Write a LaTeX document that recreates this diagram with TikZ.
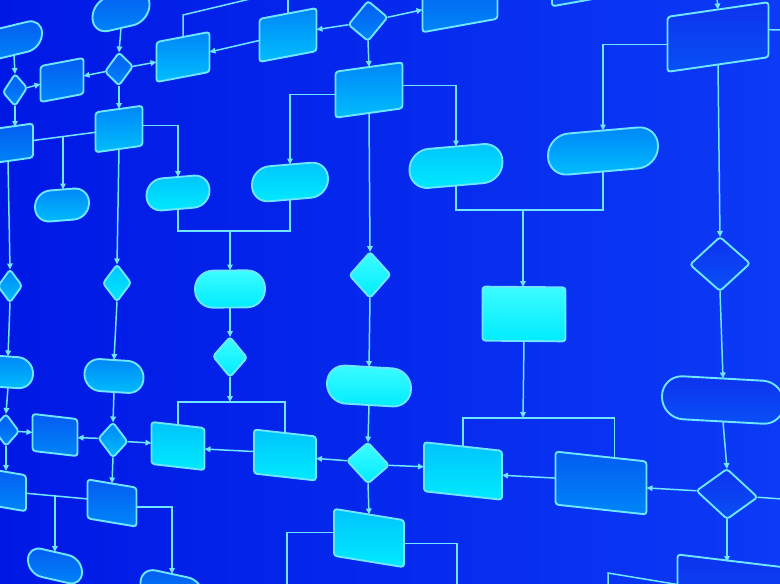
\documentclass[tikz,border=0pt]{standalone}
\usepackage{tikz}
\usetikzlibrary{arrows.meta,calc,shapes.geometric}

\definecolor{bgleft}{RGB}{0,24,228}
\definecolor{bgright}{RGB}{12,58,246}
\definecolor{wirecol}{RGB}{110,230,255}
\definecolor{deepT}{RGB}{14,50,238}
\definecolor{deepB}{RGB}{8,80,246}
\definecolor{dimT}{RGB}{4,92,242}
\definecolor{dimB}{RGB}{0,134,248}
\definecolor{midT}{RGB}{0,134,248}
\definecolor{midB}{RGB}{0,190,253}
\definecolor{litT}{RGB}{0,196,252}
\definecolor{litB}{RGB}{0,234,255}
\definecolor{glowT}{RGB}{60,252,255}
\definecolor{glowB}{RGB}{0,236,255}

\tikzset{
	part/.style={draw=wirecol, line width=1.9pt, inner sep=0pt, outer sep=0pt},
	box/.style 2 args={part, rectangle, rounded corners=3pt, minimum width=#1pt, minimum height=#2pt},
	term/.style 2 args={part, rectangle, rounded corners=0.49*#2pt, minimum width=#1pt, minimum height=#2pt},
	ask/.style 2 args={part, diamond, rounded corners=3pt, minimum width=#1pt, minimum height=#2pt},
	fdeep/.style={top color=deepT, bottom color=deepB},
	fdim/.style={top color=dimT, bottom color=dimB},
	fmid/.style={top color=midT, bottom color=midB},
	flit/.style={top color=litT, bottom color=litB},
	fglow/.style={top color=glowT, bottom color=glowB},
	link/.style={draw=wirecol, line width=1.5pt},
	flow/.style={link, -{Triangle[length=6pt, width=5.5pt]}},
}

\begin{document}
\begin{tikzpicture}[x=1pt, y=-1pt]
		%%%%% START %%%%%
		\useasboundingbox (0, 0) rectangle (780, 584);
		\clip (0, 0) rectangle (780, 584);
		\fill[left color=bgleft, right color=bgright] (0, 0) rectangle (780, 584);
		
		% upper band
		\node[term={56}{30}, fdim, yslant=0.24] (t1) at (14, 40) {};
		\node[term={57}{34}, fdim, yslant=0.23] (t2) at (121, 11) {};
		\node[ask={24}{32}, fdim, yslant=0.19] (d1) at (15, 90) {};
		\node[box={43}{36}, fdim, yslant=0.19] (b1) at (62, 80) {};
		\node[ask={28}{33}, fdim, yslant=0.19] (d2) at (119, 69) {};
		\node[box={53}{40}, fmid, yslant=0.19] (b2) at (183, 57) {};
		\node[box={57}{43}, fmid, yslant=0.19] (b3) at (288, 35) {};
		\node[ask={39}{40}, fdim, yslant=0.19] (d3) at (368, 21) {};
		\node[box={75}{45}, fdim, yslant=0.18] (b4) at (460, 3) {};
		\node[box={67}{46}, fmid, yslant=0.14] (b5) at (369, 90) {};
		\node[box={47}{40}, fmid, yslant=0.14] (b6) at (119, 129) {};
		\node[box={50}{34}, fdim, yslant=0.14] (b7) at (8, 144) {};
		\node[box={48}{40}, fdeep, yslant=0.18] (b8) at (576, -18) {};
		\node[box={101}{55}, fdeep, yslant=0.145] (b9) at (718, 37) {};
		\node[term={110}{41}, fmid, yslant=0.087] (t10) at (603, 151) {};
		\node[term={93}{39}, flit, yslant=0.086] (t11) at (456, 166) {};
		\node[term={76}{35}, flit, yslant=0.085] (t12) at (290, 182) {};
		\node[term={63}{32}, flit, yslant=0.084] (t13) at (178, 193) {};
		\node[term={54}{31}, fmid, yslant=0.08] (t14) at (62, 205) {};
		
		% middle band
		\node[ask={24}{33}, fmid, yslant=0.013] (d4) at (10, 286) {};
		\node[ask={28}{37}, flit, yslant=0.014] (d5) at (117, 283) {};
		\node[term={70}{37}, fglow, yslant=0.008] (t15) at (230, 289) {};
		\node[ask={41}{46}, fglow, yslant=0.017] (d6) at (370, 275) {};
		\node[box={83}{54}, fglow, yslant=-0.009] (b10) at (524, 314) {};
		\node[ask={60}{54}, fdeep, yslant=0.02] (d7) at (720, 264) {};
		\node[term={50}{31}, fmid, yslant=-0.065] (t16) at (8, 372) {};
		\node[term={59}{32}, fmid, yslant=-0.063] (t17) at (114, 376) {};
		\node[ask={34}{40}, fglow, yslant=-0.043] (d8) at (230, 357) {};
		\node[term={84}{38}, fglow, yslant=-0.059] (t18) at (369, 386) {};
		\node[term={122}{43}, fdeep, yslant=-0.055] (t19) at (723, 400) {};
		
		% lower band
		\node[ask={26}{32}, fdim, yslant=-0.117] (d9) at (6, 430) {};
		\node[box={45}{37}, fdim, yslant=-0.116] (b11) at (55, 435) {};
		\node[ask={29}{35}, fmid, yslant=-0.115] (d10) at (113, 440) {};
		\node[box={53}{42}, flit, yslant=-0.114] (b12) at (178, 446) {};
		\node[box={62}{44}, flit, yslant=-0.112] (b13) at (285, 455) {};
		\node[ask={42}{41}, fglow, yslant=-0.11] (d11) at (368, 463) {};
		\node[box={78}{49}, flit, yslant=-0.109] (b14) at (463, 471) {};
		\node[box={91}{53}, fdim, yslant=-0.108] (b15) at (601, 483) {};
		\node[ask={61}{50}, fdeep, yslant=-0.106] (d12) at (727, 494) {};
		\node[box={50}{36}, fdim, yslant=-0.17] (b16) at (1, 489) {};
		\node[box={49}{39}, fdim, yslant=-0.167] (b17) at (112, 503) {};
		\node[term={54}{28}, fdim, yslant=-0.23] (t20) at (55, 566) {};
		\node[term={63}{32}, fdim, yslant=-0.216] (t21) at (172, 590) {};
		\node[box={70}{47}, flit, yslant=-0.162] (b18) at (369, 538) {};
		\node[box={125}{60}, fdeep, yslant=-0.12] (b19) at (740, 592) {};
		
		% junctions and loose ends
		\coordinate (outA) at (250, -1);
		\coordinate (outB) at (287, -2);
		\coordinate (outC) at (782, 30);
		\coordinate (outD) at (717, -2);
		\coordinate (outE) at (782, 499);
		\coordinate (outF) at (608, 590);
		\coordinate (outG) at (287, 590);
		\coordinate (outH) at (457, 590);
		\coordinate (jA) at ($(b6.west)!0.52!(b7.east)$);
		\coordinate (jB) at (523, 210);
		\coordinate (jC) at (230, 231);
		\coordinate (jD) at (230, 402);
		\coordinate (jE) at (523, 418);
		\coordinate (jF) at (608, 573);
		\coordinate (jG) at ($(b16.east)!0.47!(b17.west)$);
		\coordinate (topB15) at ($(b15.north)!0.3!(b15.north east)$);
		
		% upper connectors
		\draw[flow] (t1.south) -- (d1.north);
		\draw[flow] (d1.east) -- (b1.west);
		\draw[flow] (d1.south) -- (d1.south |- b7.north);
		\draw[flow] (t2.south) -- (d2.north);
		\draw[flow] (d2.west) -- (b1.east);
		\draw[flow] (d2.east) -- (b2.west);
		\draw[flow] (d2.south) -- (b6.north);
		\draw[flow] (b3.west) -- (b2.east);
		\draw[link] (b2.north) -- ++(0, -22) -- (outA);
		\draw[link] (b3.north) -- (b3.north |- outB);
		\draw[flow] (d3.west) -- (b3.east);
		\draw[flow] (d3.east) -- (b4.west);
		\draw[flow] (d3.south) -- (b5.north);
		\draw[flow] (b5.west) -| (t12.north);
		\draw[flow] (b5.east) -| (t11.north);
		\draw[flow] (b5.south) -- (d6.north);
		\draw[flow] (b6.east) -| (t13.north);
		\draw[link] (b6.west) -- (b7.east);
		\draw[flow] (jA) -- (jA |- t14.north);
		\draw[flow] (b6.south) -- (d5.north);
		\draw[flow] (b9.west) -| (t10.north);
		\draw[link] (b9.east) -- (outC);
		\draw[flow] (outD) -- (b9.north);
		\draw[link] (t10.south) |- (jB) -| (t11.south);
		\draw[flow] (jB) -- (jB |- b10.north);
		\draw[link] (t13.south) |- (jC) -| (t12.south);
		\draw[flow] (jC) -- (t15.north);
		
		% middle connectors
		\draw[flow] (t15.south) -- (d8.north);
		\draw[flow] (d6.south) -- (t18.north);
		\draw[flow] (b9.south) -- (d7.north);
		\draw[flow] (d7.south) -- (t19.north);
		\draw[flow] (b7.south) -- (d4.north);
		\draw[flow] (d4.south) -- (t16.north);
		\draw[flow] (t16.south) -- (d9.north);
		\draw[flow] (d5.south) -- (t17.north);
		\draw[flow] (t17.south) -- (d10.north);
		
		% lower connectors
		\draw[flow] (d9.east) -- (b11.west);
		\draw[flow] (d9.south) -- (d9.south |- b16.north);
		\draw[flow] (d10.west) -- (b11.east);
		\draw[flow] (d10.east) -- (b12.west);
		\draw[flow] (d10.south) -- (b17.north);
		\draw[flow] (b13.west) -- (b12.east);
		\draw[flow] (d8.south) -- (jD);
		\draw[link] (b12.north) |- (jD) -| (b13.north);
		\draw[flow] (t18.south) -- (d11.north);
		\draw[flow] (d11.west) -- (b13.east);
		\draw[flow] (d11.east) -- (b14.west);
		\draw[flow] (d11.south) -- (b18.north);
		\draw[flow] (b10.south) -- (jE);
		\draw[link] (b14.north) |- (jE) -| (topB15);
		\draw[flow] (b15.west) -- (b14.east);
		\draw[flow] (d12.west) -- (b15.east);
		\draw[link] (d12.east) -- (outE);
		\draw[flow] (t19.south) -- (d12.north);
		\draw[flow] (d12.south) -- (d12.south |- b19.north);
		\draw[link] (b19.west) -- (jF) -- (outF);
		\draw[link] (b16.east) -- (b17.west);
		\draw[flow] (jG) -- (jG |- t20.north);
		\draw[flow] (b17.east) -| (t21.north);
		\draw[link] (b18.west) -| (outG);
		\draw[link] (b18.east) -| (outH);
		
		%%%%% END %%%%%
\end{tikzpicture}
\end{document}
